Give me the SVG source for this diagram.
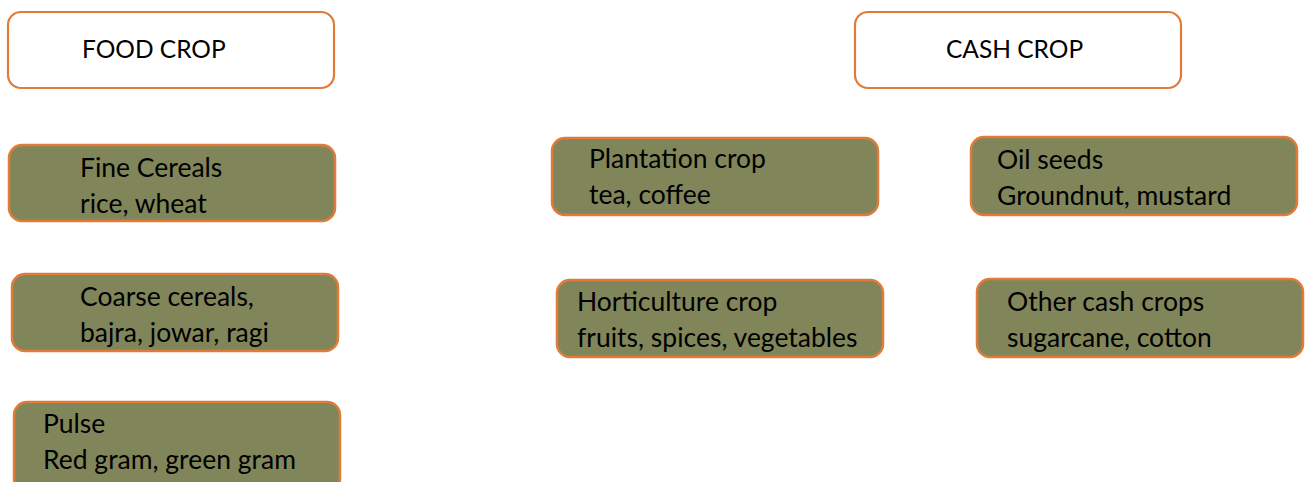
<svg xmlns="http://www.w3.org/2000/svg" width="1308" height="482" viewBox="0 0 1308 482">
<style>
.head{fill:#ffffff;stroke:#E07B39;stroke-width:2.2}
.sub{fill:#80865A;stroke:#E07B39;stroke-width:2.5}
text{font-family:Lato,"Liberation Sans",sans-serif;font-size:26.5px;fill:#000000}
text.h{font-size:24.5px}
</style>
<rect width="1308" height="482" fill="#ffffff"/>
<g id="connectors"></g>
<g id="food-crop"><rect class="head" x="8" y="12" width="326" height="76" rx="13"/><text class="h" x="82" y="58">FOOD CROP</text></g>
<g id="cash-crop"><rect class="head" x="855" y="12" width="326" height="76" rx="13"/><text class="h" x="946" y="58">CASH CROP</text></g>
<g id="fine-cereals"><rect class="sub" x="9" y="145" width="326" height="76" rx="13"/><text x="80" y="177">Fine Cereals</text><text x="80" y="213">rice, wheat</text></g>
<g id="coarse-cereals"><rect class="sub" x="12" y="274" width="326" height="77" rx="13"/><text x="80" y="306">Coarse cereals,</text><text x="80" y="342">bajra, jowar, ragi</text></g>
<g id="pulse"><rect class="sub" x="14" y="402" width="326" height="90" rx="13"/><text x="43" y="433">Pulse</text><text x="43" y="469">Red gram, green gram</text></g>
<g id="plantation"><rect class="sub" x="552" y="138" width="326" height="77" rx="13"/><text x="589" y="168">Plantation crop</text><text x="589" y="204">tea, coffee</text></g>
<g id="oil-seeds"><rect class="sub" x="971" y="137" width="326" height="78" rx="13"/><text x="997" y="169">Oil seeds</text><text x="997" y="205">Groundnut, mustard</text></g>
<g id="horticulture"><rect class="sub" x="557" y="280" width="326" height="77" rx="13"/><text x="577" y="311">Horticulture crop</text><text x="577" y="347">fruits, spices, vegetables</text></g>
<g id="other-cash"><rect class="sub" x="977" y="279" width="326" height="78" rx="13"/><text x="1007" y="311">Other cash crops</text><text x="1007" y="347">sugarcane, cotton</text></g>
</svg>
